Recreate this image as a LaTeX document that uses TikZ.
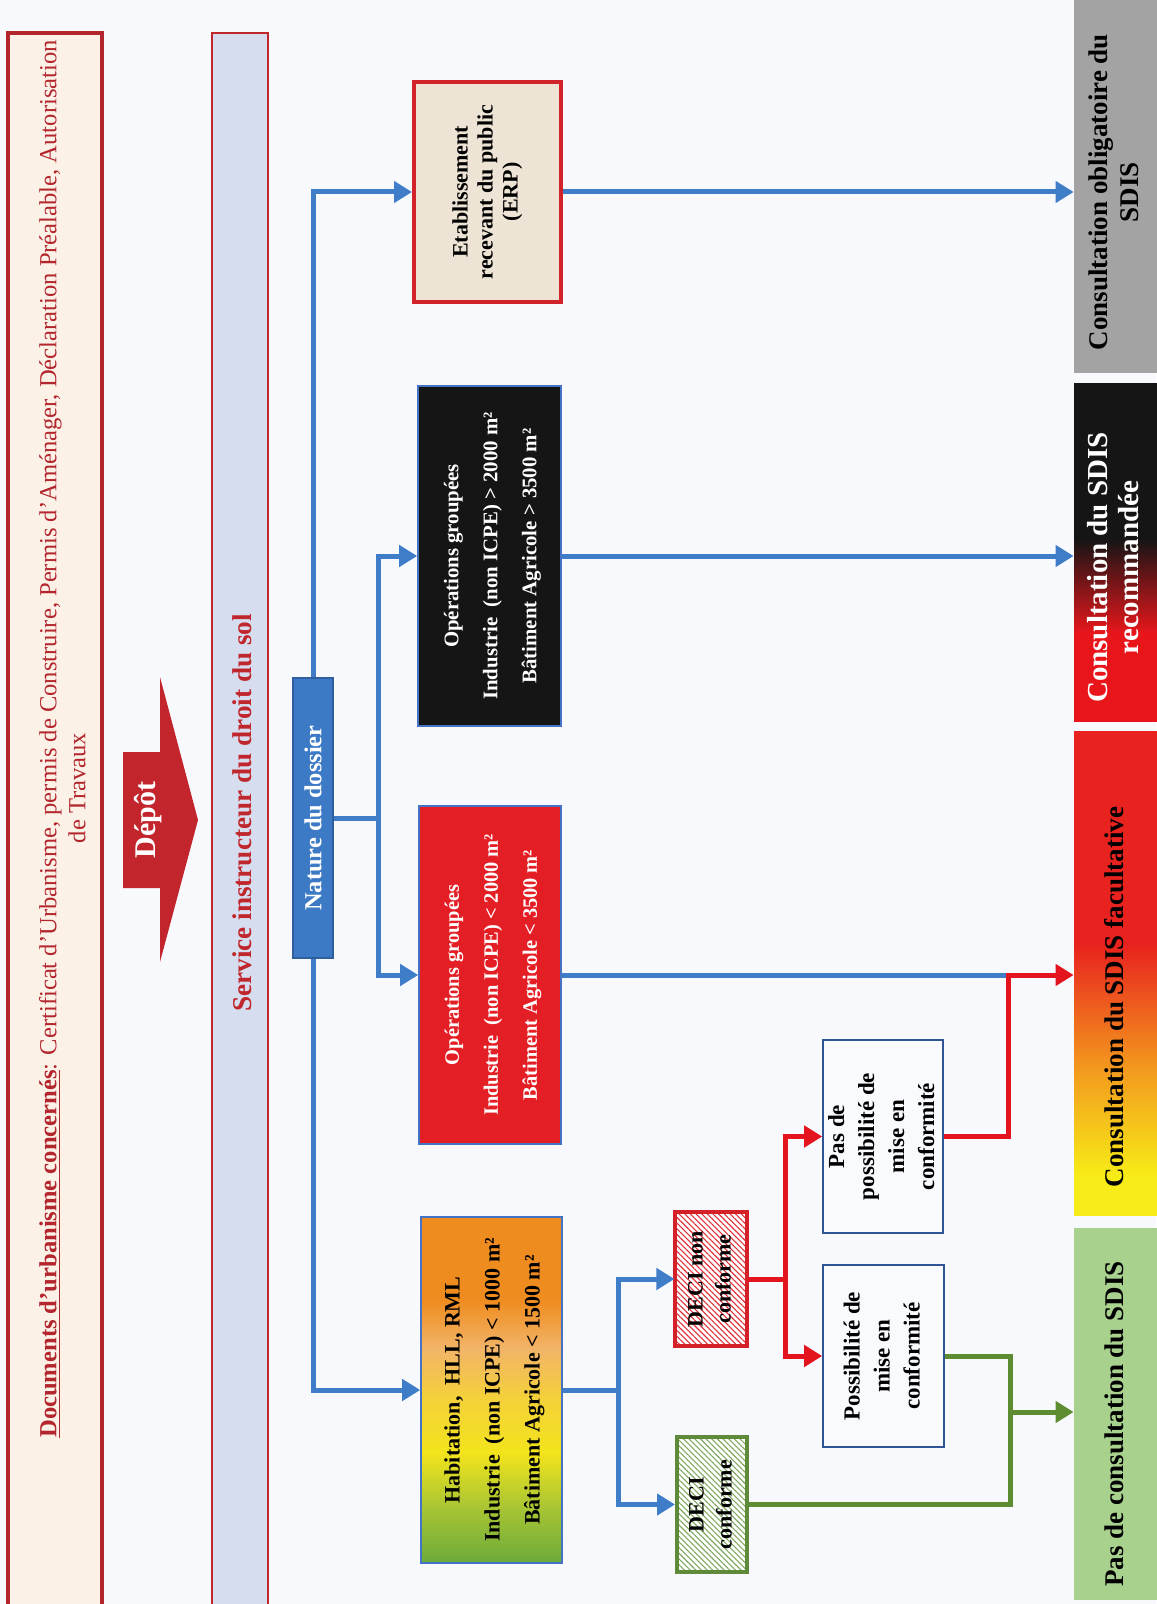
\documentclass[tikz,border=0pt]{standalone}
\usepackage{fontspec}
\setmainfont{Liberation Serif}
\usetikzlibrary{arrows.meta,patterns.meta,calc}

\definecolor{bgc}{HTML}{F7F9FC}
\definecolor{docred}{HTML}{B3262D}
\definecolor{docfill}{HTML}{FBF1E7}
\definecolor{svcfill}{HTML}{D5DDEE}
\definecolor{svcred}{HTML}{C0272D}
\definecolor{depotred}{HTML}{C3252C}
\definecolor{lblue}{HTML}{3F7DC8}
\definecolor{natfill}{HTML}{3D7AC6}
\definecolor{natdraw}{HTML}{2F5F9E}
\definecolor{boxblue}{HTML}{4472C4}
\definecolor{erpfill}{HTML}{EEE4D5}
\definecolor{erpred}{HTML}{D2222A}
\definecolor{blackfill}{HTML}{151515}
\definecolor{redfill}{HTML}{E41E25}
\definecolor{lred}{HTML}{E3141E}
\definecolor{lgreen}{HTML}{5E8C31}
\definecolor{colgray}{HTML}{A3A3A3}
\definecolor{colgreen}{HTML}{A9D18E}
\definecolor{hatchred}{HTML}{E0303A}
\definecolor{hatchgreen}{HTML}{7FA860}
\definecolor{decired}{HTML}{D42027}
\definecolor{deciconf}{HTML}{5E8A3A}
\definecolor{whitebox}{HTML}{F8FAFD}
\definecolor{wbdraw}{HTML}{2F5597}
\definecolor{hgreen}{HTML}{6BAA3A}
\definecolor{hyg}{HTML}{A8C534}
\definecolor{hyellow}{HTML}{F3E41C}
\definecolor{hyellowb}{HTML}{F4D03A}
\definecolor{hpeach}{HTML}{F2B468}
\definecolor{horange}{HTML}{EF8C1F}
\definecolor{cred}{HTML}{E8161B}
\definecolor{cblack}{HTML}{151515}
\definecolor{cyellow}{HTML}{F7EC17}
\definecolor{corange}{HTML}{F39A1E}
\definecolor{cred2}{HTML}{E8221E}

\pgfdeclareverticalshading{habsh}{100bp}{color(0bp)=(hgreen); color(25bp)=(hgreen); color(33bp)=(hyg); color(41bp)=(hyellow); color(49bp)=(hyellowb); color(56bp)=(hpeach); color(63bp)=(horange); color(100bp)=(horange)}
\pgfdeclareverticalshading{recsh}{100bp}{color(0bp)=(cred); color(38bp)=(cred); color(52bp)=(cblack); color(100bp)=(cblack)}
\pgfdeclareverticalshading{facsh}{100bp}{color(0bp)=(cyellow); color(29bp)=(cyellow); color(40bp)=(corange); color(53bp)=(cred2); color(100bp)=(cred2)}

\newcommand{\rtab}[1]{\rotatebox{90}{\begin{tabular}{@{}c@{}}#1\end{tabular}}}
\newcommand{\rtabs}[2]{\rotatebox{90}{\begin{tabular}{@{}c@{}}#2\end{tabular}\hspace*{#1}}}

\begin{document}
\begin{tikzpicture}[x=0.5pt,y=-0.5pt,
  conn/.style={line width=2.5pt},
  arr/.style={-{Triangle[length=9pt,width=10.5pt]}},
  bluel/.style={conn, draw=lblue},
  redl/.style={conn, draw=lred},
  greenl/.style={conn, draw=lgreen},
  bx/.style={inner sep=0pt, anchor=center},
  colbox/.style={bx, minimum width=43pt, font=\bfseries\fontsize{13.5}{15.5}\selectfont},
  hatchr/.style={preaction={fill=white}, pattern={Lines[angle=-45,distance=2pt,line width=0.55pt]}, pattern color=hatchred},
  hatchg/.style={preaction={fill=white}, pattern={Lines[angle=-45,distance=2pt,line width=0.55pt]}, pattern color=hatchgreen},
]
\path[use as bounding box, fill=bgc] (0,0) rectangle (1156,1604);

% top banner
\node[bx, draw=docred, line width=2pt, fill=docfill, minimum width=47pt, minimum height=820pt] (docs) at (55,853) {};
\node[text=docred, font=\fontsize{12.3}{14.5}\selectfont] (doctext) at (65,739) {\rtab{\textbf{\underline{Documents d’urbanisme concernés}}: Certificat d’Urbanisme, permis de Construire, Permis d’Aménager, Déclaration Préalable, Autorisation\\ de Travaux\hspace*{49pt}}};

% service
\node[bx, draw=svcred, line width=1.2pt, fill=svcfill, minimum width=28pt, minimum height=820pt] (svc) at (240,853) {};
\node[text=svcred, font=\bfseries\fontsize{13.6}{16}\selectfont] (svctext) at (242,813) {\rotatebox{90}{Service instructeur du droit du sol}};

% depot arrow
\fill[depotred] (123,752) -- (160,752) -- (160,677) -- (198,820) -- (160,962) -- (160,888) -- (123,888) -- cycle;
\node[text=white, font=\bfseries\fontsize{15}{18}\selectfont] (depot) at (148,820) {\rotatebox{90}{Dépôt}};

% nature
\node[bx, draw=natdraw, fill=natfill, line width=0.8pt, minimum width=20pt, minimum height=140pt, text=white, font=\bfseries\fontsize{12.2}{14}\selectfont] (nature) at (313,818) {\rotatebox{90}{Nature du dossier}};

% category boxes
\node[bx, draw=erpred, line width=2pt, fill=erpfill, minimum width=73.5pt, minimum height=110pt, font=\bfseries\fontsize{11}{12.5}\selectfont] (erp) at (487.5,192) {\rtab{Etablissement\\ recevant du public\\ (ERP)}};
\node[bx, draw=boxblue, line width=0.8pt, fill=blackfill, minimum width=71.5pt, minimum height=170pt, text=white, font=\bfseries\fontsize{10.4}{19.5}\selectfont] (blk) at (489.5,556) {\rtab{Opérations groupées\\ Industrie~ (non ICPE) > 2000 m²\\ Bâtiment Agricole > 3500 m²}};
\node[bx, draw=boxblue, line width=0.8pt, fill=redfill, minimum width=71pt, minimum height=169pt, text=white, font=\bfseries\fontsize{10.2}{19.5}\selectfont] (red) at (490,975) {\rtab{Opérations groupées\\ Industrie~ (non ICPE) < 2000 m²\\ Bâtiment Agricole < 3500 m²}};
\node[bx, draw=boxblue, line width=0.8pt, shade, shading=habsh, minimum width=70.5pt, minimum height=173pt, font=\bfseries\fontsize{11}{20}\selectfont] (hab) at (491.5,1390) {\rtab{Habitation,~ HLL, RML\\ Industrie~ (non ICPE) < 1000 m²\\ Bâtiment Agricole < 1500 m²}};

% DECI boxes
\node[bx, draw=decired, line width=2pt, hatchr, minimum width=36pt, minimum height=67pt, font=\bfseries\fontsize{11}{14}\selectfont] (dnon) at (711,1279) {\rtab{DECI non\\ conforme}};
\node[bx, draw=deciconf, line width=2pt, hatchg, minimum width=35pt, minimum height=67.5pt, font=\bfseries\fontsize{11}{14}\selectfont] (dconf) at (712,1504.5) {\rtab{DECI\\ conforme}};

% conformity boxes
\node[bx, draw=wbdraw, line width=0.8pt, fill=whitebox, minimum width=60pt, minimum height=96.5pt, font=\bfseries\fontsize{11.5}{15}\selectfont] (pasde) at (883,1136.5) {\rtab{Pas de\\ possibilité de\\ mise en\\ conformité}};
\node[bx, draw=wbdraw, line width=0.8pt, fill=whitebox, minimum width=60.5pt, minimum height=91pt, font=\bfseries\fontsize{11.5}{15}\selectfont] (poss) at (883.5,1356) {\rtab{Possibilité de\\ mise en\\ conformité}};

% result columns
\node[colbox, fill=colgray, minimum height=189pt] (gray) at (1117,184) {\rtabs{8pt}{Consultation obligatoire du\\ SDIS}};
\node[colbox, shade, shading=recsh, minimum height=168.5pt, text=white, font=\bfseries\fontsize{14.5}{15.5}\selectfont] (rec) at (1117,552.5) {\rtabs{15pt}{Consultation du SDIS\\ recommandée}};
\node[colbox, shade, shading=facsh, minimum height=242pt] (fac) at (1117,973) {\rtabs{24pt}{Consultation du SDIS facultative}};
\node[colbox, fill=colgreen, minimum height=186pt] (grn) at (1117,1414) {\rtabs{10pt}{Pas de consultation du SDIS}};

% connectors
\draw[bluel, arr] (nature.north) |- (erp.west);
\draw[bluel, arr] (nature.south) |- (hab.west);
\coordinate (j1) at (378,818);
\draw[bluel] (nature.east) -- (j1);
\draw[bluel, arr] (j1) |- (blk.west);
\draw[bluel, arr] (j1) |- (red.west);

\draw[bluel, arr] (erp.east) -- (erp.east -| gray.west);
\draw[bluel, arr] (blk.east) -- (blk.east -| rec.west);
\coordinate (j3) at (1008,975);
\draw[bluel] (red.east) -- (j3);
\draw[redl, arr] (pasde.east) -| (j3) -- (j3 -| fac.west);

\coordinate (j4) at (618,1390);
\draw[bluel] (hab.east) -- (j4);
\draw[bluel, arr] (j4) |- (dnon.west);
\draw[bluel, arr] (j4) |- (dconf.west);

\coordinate (j5) at (785,1279);
\draw[redl] (dnon.east) -- (j5);
\draw[redl, arr] (j5) |- (pasde.west);
\draw[redl, arr] (j5) |- (poss.west);

\coordinate (j6) at (1010,1412);
\draw[greenl] (poss.east) -| (dconf.east -| j6) -- (dconf.east);
\draw[greenl, arr] (j6) -- (j6 -| grn.west);
\end{tikzpicture}
\end{document}
